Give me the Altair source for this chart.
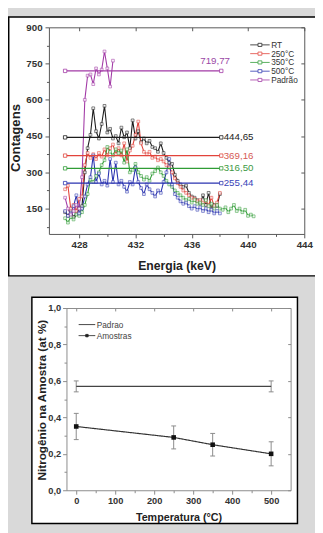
import altair as alt
import pandas as pd

FONT = "Liberation Sans"

# ---------------- top panel data ----------------
ENERGIA = [427.0, 427.2, 427.4, 427.6, 427.8, 428.0, 428.2, 428.4, 428.6, 428.8,
           429.0, 429.2, 429.4, 429.6, 429.8, 430.0, 430.2, 430.4, 430.6, 430.8,
           431.0, 431.2, 431.4, 431.6, 431.8, 432.0, 432.2, 432.4, 432.6, 432.8,
           433.0, 433.2, 433.4, 433.6, 433.8, 434.0, 434.2, 434.4, 434.6, 434.8,
           435.0, 435.2, 435.4, 435.6, 435.8, 436.0, 436.2, 436.4, 436.6, 436.8,
           437.0, 437.2, 437.4, 437.6, 437.8, 438.0, 438.2, 438.4, 438.6, 438.8,
           439.0, 439.2, 439.4, 439.6, 439.8, 440.0, 440.2, 440.4]

RT = [135, 120, 140, 115, 130, 150, 160, 300, 400, 455,
      565, 470, 440, 500, 575, 465, 480, 440, 450, 420,
      485, 445, 465, 400, 515, 440, 470, 425, 440, 420,
      430, 405, 400, 385, 420, 380, 360, 340, 335, 290,
      265, 250, 240, 245, 215, 200, 195, 185, 170, 205,
      165, 215, 150, 165, 160, 210]
T250 = [230, 245, 150, 165, 140, 190, 200, 330, 380, 360,
        375, 355, 380, 365, 395, 370, 400, 415, 375, 400,
        370, 420, 345, 390, 410, 455, 510, 420, 385, 375,
        385, 360, 365, 350, 355, 345, 330, 320, 300, 275,
        255, 240, 225, 215, 205, 195, 190, 180, 185, 175,
        180, 165, 195, 160, 175, 215]
T350 = [110, 92, 115, 105, 125, 120, 135, 165, 210, 270,
        260, 285, 300, 330, 350, 405, 385, 370, 395, 380,
        390, 340, 395, 300, 310, 335, 300, 285, 270, 280,
        265, 295, 305, 320, 300, 285, 265, 250, 240, 225,
        215, 205, 195, 185, 190, 175, 185, 170, 175, 165,
        185, 160, 170, 150, 165, 150, 145, 155, 135, 150,
        165, 140, 150, 135, 145, 120, 125, 118]
T500 = [140, 120, 130, 160, 205, 130, 150, 200, 250, 280,
        370, 260, 295, 250, 265, 245, 355, 260, 340, 250,
        265, 240, 220, 260, 250, 320, 260, 235, 210, 250,
        230, 215, 200, 225, 215, 260, 300, 355, 250, 210,
        195, 180, 170, 175, 160, 150, 160, 145, 155, 140,
        150, 135, 145, 130, 140, 130]
PADRAO = [195, 150, 125, 140, 165, 150, 280, 600, 700, 705,
          665, 730, 705, 725, 800, 730, 655, 762]

SERIES = ["RT", "250°C", "350°C", "500°C", "Padrão"]
CORES = ["#1c1c1c", "#e2433b", "#2f9c35", "#2a33b0", "#a23aa6"]
CORES_ROTULO = ["#222222", "#d65a55", "#3d9a45", "#3a44b8", "#9a48a6"]
MEDIAS = [444.65, 369.16, 316.50, 255.44, 719.77]
MEDIA_E = [427.0, 438.1]

X_TICKS_TOP = [428, 432, 436, 440, 444]
X_MINOR_TOP = [430, 434, 438, 442]
Y_TICKS_TOP = [150, 300, 450, 600, 750, 900]
Y_MINOR_TOP = [75, 225, 375, 525, 675, 825]

# ---------------- bottom panel data ----------------
TEMP = [0, 250, 350, 500]
N_AMOSTRA = [0.35, 0.29, 0.25, 0.20]
ERR_AMOSTRA = [0.072, 0.063, 0.062, 0.066]
TEMP_PADRAO = [0, 500]
N_PADRAO = 0.57
ERR_PADRAO = 0.03

X_TICKS_BOT = [0, 100, 200, 300, 400, 500]
X_MINOR_BOT = [50, 150, 250, 350, 450]
Y_TICKS_BOT = [0.0, 0.2, 0.4, 0.6, 0.8, 1.0]
Y_MINOR_BOT = [0.1, 0.3, 0.5, 0.7, 0.9]

# ---------------- tables ----------------
spec = []
for nome, vals in zip(SERIES, [RT, T250, T350, T500, PADRAO]):
    for e, c in zip(ENERGIA, vals):
        spec.append({"serie": nome, "E": e, "C": c})
df_spec = pd.DataFrame(spec)

df_avg = pd.DataFrame([{"serie": s, "E": e, "C": m}
                       for s, m in zip(SERIES, MEDIAS) for e in MEDIA_E])
df_lab = pd.DataFrame([{"serie": s, "E": MEDIA_E[1], "C": m,
                        "txt": f"{m:.2f}".replace(".", ",")}
                       for s, m in zip(SERIES, MEDIAS)])
df_lab_pad = df_lab[df_lab.serie == "Padrão"]
df_lab_oth = df_lab[df_lab.serie != "Padrão"]

df_pad = pd.DataFrame({"T": TEMP_PADRAO, "N": [N_PADRAO] * 2, "serie": "Padrao",
                       "lo": [N_PADRAO - ERR_PADRAO] * 2,
                       "hi": [N_PADRAO + ERR_PADRAO] * 2})
df_am = pd.DataFrame({"T": TEMP, "N": N_AMOSTRA, "serie": "Amostras",
                      "lo": [n - e for n, e in zip(N_AMOSTRA, ERR_AMOSTRA)],
                      "hi": [n + e for n, e in zip(N_AMOSTRA, ERR_AMOSTRA)]})
df_err = pd.concat([df_pad, df_am], ignore_index=True)
df_caps = pd.concat([df_err[["T"]].assign(v=df_err["lo"]),
                     df_err[["T"]].assign(v=df_err["hi"])], ignore_index=True)

# ---------------- scales (pixel ranges inside one 315x525 view) ----------------
XT = alt.Scale(domain=[425.85, 444], range=[42, 304], nice=False, zero=False)
YT = alt.Scale(domain=[45, 900], range=[225, 13], nice=False, zero=False)
XB = alt.Scale(domain=[-25, 550], range=[60, 290], nice=False, zero=False)
YB = alt.Scale(domain=[0, 1], range=[488, 301], nice=False, zero=False)


def axis(orient, offset, values, tick, color, labels=False, domain=True, title=None, **kw):
    args = dict(orient=orient, offset=offset, values=values, tickSize=tick,
                tickColor=color, domainColor=color, domain=domain, labels=labels,
                grid=False, zindex=1, tickWidth=1, domainWidth=1)
    if labels:
        args.update(labelFont=FONT, labelFontWeight="bold", labelColor="#333",
                    labelFlush=False, labelOverlap=False)
    if title is not None:
        args.update(title=title, titleFont=FONT, titleFontWeight="bold",
                    titleColor="#222", titleBaseline="middle", titleAlign="center")
    else:
        args["title"] = None
    args.update(kw)
    return alt.Axis(**args)


TOPC = "#555555"
BOTC = "#8a8a8a"

ax_xt_main = axis("bottom", -300, X_TICKS_TOP, 4, TOPC, labels=True, title="Energia (keV)",
                  labelFontSize=10, labelPadding=2, titleFontSize=12.5, titleX=173, titleY=32)
ax_yt_main = axis("left", -42, Y_TICKS_TOP, 4, TOPC, labels=True, title="Contagens",
                  labelFontSize=10, labelPadding=3, titleFontSize=13.5, titleX=-34, titleY=126)
ax_xt_mirror = axis("bottom", -512, X_TICKS_TOP, 3.5, TOPC)
ax_yt_mirror = axis("left", -304, Y_TICKS_TOP, 3.5, TOPC)
ax_xt_minor = axis("bottom", -300, X_MINOR_TOP, 2.5, TOPC, domain=False)
ax_yt_minor = axis("left", -42, Y_MINOR_TOP, 2.5, TOPC, domain=False)

ax_xb_main = axis("bottom", -37, X_TICKS_BOT, 4, BOTC, labels=True, title="Temperatura (°C)",
                  labelFontSize=9.5, labelPadding=2, titleFontSize=11, titleX=175, titleY=28)
ax_yb_main = axis("left", -60, Y_TICKS_BOT, 4, BOTC, labels=True,
                  title="Nitrogênio na Amostra (at %)",
                  labelFontSize=9.5, labelPadding=2, titleFontSize=12, titleX=-26, titleY=395,
                  labelExpr="replace(format(datum.value, '.1f'), '.', ',')")
ax_xb_mirror = axis("bottom", -224, X_TICKS_BOT, 3, BOTC)
ax_yb_mirror = axis("left", -290, Y_TICKS_BOT, 3, BOTC)
ax_xb_minor = axis("bottom", -37, X_MINOR_BOT, 2.5, BOTC, domain=False)
ax_yb_minor = axis("left", -60, Y_MINOR_BOT, 2.5, BOTC, domain=False)

leg_top = alt.Legend(orient="none", legendX=260, legendY=26.5, title=None, padding=0,
                     labelFont=FONT, labelFontSize=8.5, labelColor="#333", labelOffset=1,
                     rowPadding=0, symbolType="M-4,0H-2M-1,0H1M-2,-0.4H-1V0.4H-2Z",
                     symbolSize=64, symbolStrokeWidth=1, symbolFillColor="white", zindex=1)
leg_pad = alt.Legend(orient="none", legendX=81, legendY=313.5, title=None, padding=0,
                     labelFont=FONT, labelFontSize=8.5, labelColor="#444", labelOffset=1,
                     symbolType="M-3.25,0H1", symbolSize=64, symbolStrokeWidth=1, zindex=1)
leg_am = alt.Legend(orient="none", legendX=81, legendY=324.8, title=None, padding=0,
                    labelFont=FONT, labelFontSize=8.5, labelColor="#444", labelOffset=1,
                    symbolType="M-3.25,0H1M-1.425,-0.3H-0.825V0.3H-1.425Z",
                    symbolSize=64, symbolStrokeWidth=1, symbolStrokeColor="#222",
                    symbolFillColor="#222", zindex=1)

blank = alt.Data(values=[{}])

box_top = alt.Chart(blank).mark_rect(fill="white", stroke="black", strokeWidth=1.5).encode(
    x=alt.value(0.75), x2=alt.value(330), y=alt.value(2.5), y2=alt.value(268))
box_bot = alt.Chart(blank).mark_rect(fill="white", stroke="black", strokeWidth=1.5).encode(
    x=alt.value(24.5), x2=alt.value(297), y=alt.value(290), y2=alt.value(522))

color_top = alt.Scale(domain=SERIES, range=CORES)
color_lab = alt.Scale(domain=SERIES, range=CORES_ROTULO)

spectra = alt.Chart(df_spec).mark_line(
    strokeWidth=1.1, point=alt.OverlayMarkDef(shape="square", filled=False, fill="white",
                                              size=8, strokeWidth=0.7, opacity=0.8)
).encode(
    x=alt.X("E:Q", scale=XT, axis=ax_xt_main),
    y=alt.Y("C:Q", scale=YT, axis=ax_yt_main),
    color=alt.Color("serie:N", scale=color_top, legend=leg_top),
)

avg = alt.Chart(df_avg).mark_line(
    strokeWidth=1.3, point=alt.OverlayMarkDef(shape="square", filled=False, fill="white",
                                              size=12, strokeWidth=0.8)
).encode(
    x=alt.X("E:Q", scale=XT, axis=ax_xt_mirror),
    y=alt.Y("C:Q", scale=YT, axis=ax_yt_mirror),
    color=alt.Color("serie:N", scale=color_top, legend=None),
)

lab_oth = alt.Chart(df_lab_oth).mark_text(align="left", baseline="middle", dx=2.5,
                                          font=FONT, fontSize=10).encode(
    x=alt.X("E:Q", scale=XT, axis=ax_xt_minor),
    y=alt.Y("C:Q", scale=YT, axis=ax_yt_minor),
    text="txt:N",
    color=alt.Color("serie:N", scale=color_lab, legend=None),
)
lab_pad = alt.Chart(df_lab_pad).mark_text(align="right", baseline="middle", dx=9, dy=-10.5,
                                          font=FONT, fontSize=10).encode(
    x=alt.X("E:Q", scale=XT, axis=None),
    y=alt.Y("C:Q", scale=YT, axis=None),
    text="txt:N",
    color=alt.Color("serie:N", scale=color_lab, legend=None),
)

err_rules = alt.Chart(df_err).mark_rule(color=BOTC, strokeWidth=1).encode(
    x=alt.X("T:Q", scale=XB, axis=ax_xb_minor),
    y=alt.Y("lo:Q", scale=YB, axis=ax_yb_minor),
    y2="hi:Q",
)
err_caps = alt.Chart(df_caps).mark_tick(color=BOTC, orient="horizontal", size=5,
                                        thickness=1, opacity=1).encode(
    x=alt.X("T:Q", scale=XB, axis=None),
    y=alt.Y("v:Q", scale=YB, axis=None),
)
pad_line = alt.Chart(df_pad).mark_line(strokeWidth=1.2).encode(
    x=alt.X("T:Q", scale=XB, axis=ax_xb_main),
    y=alt.Y("N:Q", scale=YB, axis=ax_yb_main),
    color=alt.Color("serie:N", scale=alt.Scale(domain=["Padrao"], range=["#444444"]),
                    legend=leg_pad),
)
am_line = alt.Chart(df_am).mark_line(strokeWidth=1.2, color="#333333").encode(
    x=alt.X("T:Q", scale=XB, axis=ax_xb_mirror),
    y=alt.Y("N:Q", scale=YB, axis=ax_yb_mirror),
    strokeDash=alt.StrokeDash("serie:N", scale=alt.Scale(domain=["Amostras"], range=[[1, 0]]),
                              legend=leg_am),
)
am_pts = alt.Chart(df_am).mark_square(size=22, color="#111111", opacity=1).encode(
    x=alt.X("T:Q", scale=XB, axis=None),
    y=alt.Y("N:Q", scale=YB, axis=None),
)

chart = alt.layer(
    box_top, box_bot, spectra, avg, lab_oth, lab_pad,
    err_rules, err_caps, pad_line, am_line, am_pts,
).resolve_scale(
    x="independent", y="independent", color="independent", strokeDash="independent"
).properties(
    width=315, height=525, padding=0,
    autosize=alt.AutoSizeParams(type="none"),
    background="#d9d9d9",
).configure_view(stroke=None)

chart.save("out.html", embed_options={"renderer": "svg", "actions": False})
